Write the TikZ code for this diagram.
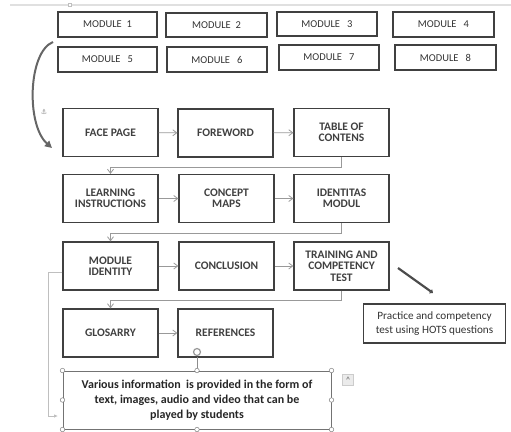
\documentclass[tikz,border=0pt]{standalone}
\usepackage{fontspec}
\setmainfont{Carlito}
\newfontfamily\symfont{DejaVu Sans}
\usetikzlibrary{arrows.meta,positioning}
\begin{document}
\begin{tikzpicture}[x=1pt,y=-1pt,
  modbox/.style={draw=black!75,line width=1.1pt,minimum width=100pt,minimum height=25pt,inner sep=0pt,font=\fontsize{10.5}{12}\selectfont,text=black!80},
  flowbox/.style={draw=black!75,line width=1.2pt,minimum width=95pt,minimum height=48pt,inner sep=1pt,align=center,font=\fontsize{11.5}{11.5}\selectfont\bfseries,text=black!75},
  conn/.style={draw=black!40,line width=0.8pt,-{Straight Barb[length=4pt,width=6pt]}},
  handle/.style={circle,draw=black!50,fill=white,line width=0.5pt,minimum size=4.5pt,inner sep=0pt}]
\useasboundingbox (0,0) rectangle (511,431);
% top faint bar
\draw[black!12,line width=2pt] (10,5) -- (511,5);
\node[draw=black!25,fill=white,minimum size=3pt,inner sep=0pt] (tophandle) at (70,5) {};
% modules
\node[modbox,minimum width=99pt] (m1) at (107.5,24.5) {MODULE\ \ 1};
\node[modbox,minimum width=101pt,minimum height=24pt] (m2) at (216.5,25) {MODULE\ \ 2};
\node[modbox,minimum height=24pt] (m3) at (327,24) {MODULE\ \ \ 3};
\node[modbox,minimum width=101pt] (m4) at (443.5,24.5) {MODULE\ \ \ 4};
\node[modbox,minimum width=99pt] (m5) at (107.5,59.5) {MODULE\ \ \ 5};
\node[modbox] (m6) at (217,59.5) {MODULE\ \ \ 6};
\node[modbox] (m7) at (329,57.5) {MODULE\ \ \ 7};
\node[modbox,minimum width=101pt] (m8) at (445.5,57.5) {MODULE\ \ \ 8};
% flow boxes
\node[flowbox] (face) at (110.5,132.5) {FACE PAGE};
\node[flowbox] (fore) at (225.5,133) {FOREWORD};
\node[flowbox] (toc) at (341.5,132.5) {TABLE OF\\CONTENS};
\node[flowbox] (learn) at (110.5,198.5) {LEARNING\\INSTRUCTIONS};
\node[flowbox] (concept) at (226.5,198.5) {CONCEPT\\MAPS};
\node[flowbox] (ident) at (341.5,198.5) {IDENTITAS\\MODUL};
\node[flowbox] (modid) at (110.5,266) {MODULE\\IDENTITY};
\node[flowbox] (concl) at (226.5,266) {CONCLUSION};
\node[flowbox] (train) at (341.5,266) {TRAINING AND\\COMPETENCY\\TEST};
\node[flowbox] (glos) at (110.5,333) {GLOSARRY};
\node[flowbox] (refs) at (225.5,333) {REFERENCES};
% practice box
\node[draw=black!75,line width=1.1pt,minimum width=142pt,minimum height=39pt,align=center,font=\fontsize{11.2}{14}\selectfont,text=black!80] (prac) at (434.5,323.5) {Practice and competency\\test using HOTS questions};
% various box
\node[draw=black!55,line width=1pt,minimum width=268pt,minimum height=58pt,align=center,font=\fontsize{12}{15}\selectfont\bfseries,text=black!85] (var) at (197,400) {Various information\ \ is provided in the form of\\text, images, audio and video that can be\\played by students};
% horizontal arrows
\draw[conn] (face) -- (fore);
\draw[conn] (fore) -- (toc);
\draw[conn] (learn) -- (concept);
\draw[conn] (concept) -- (ident);
\draw[conn] (modid) -- (concl);
\draw[conn] (concl) -- (train);
\draw[conn] (glos) -- (refs);
% row connectors
\draw[conn] (toc.south) -- ++(0,10) -| (learn.north);
\draw[conn] (ident.south) -- ++(0,10.5) -| (modid.north);
\draw[conn] (train.south) -- ++(0,10) -| (glos.north);
% left line to various box
\coordinate (lt) at (48,272);
\coordinate (lb) at (48,416);
\draw[black!25,line width=0.8pt,-{Latex[length=4pt,width=3.5pt]}] (modid.west |- lt) -- (lt) -- (lb) -- (58,416);
% curved arrow
\coordinate (cs) at (53,42);
\coordinate (ce) at (52,148);
\draw[black!60,line width=2pt,-{Triangle[length=7pt,width=7pt]}] (cs) .. controls (28,52) and (26,125) .. (ce);
\node[text=black!45,font=\symfont\fontsize{7}{7}\selectfont] (anchor) at (44,112) {⚓};
% diagonal thick line
\coordinate (d1) at (398,268);
\coordinate (d2) at (433,293);
\draw[black!70,line width=2.2pt,-{Triangle[length=3pt,width=5pt]}] (d1) -- (d2);
% selection handles
\foreach \p [count=\i] in {north west,north,north east,west,east,south west,south,south east}
  \node[handle] (h\i) at (var.\p) {};
\coordinate (rot) at (197,357);
\draw[black!45,line width=0.8pt] (h2) -- (rot);
\node[circle,draw=black!40,line width=1.2pt,minimum size=7pt,inner sep=0pt,fill=white] (roticon) at (197,352) {};
\node[draw=black!20,fill=black!8,minimum size=11pt,inner sep=0pt,font=\fontsize{8}{8}\selectfont\bfseries,text=black!50] (btn) at (348,380) {\^{}};
\end{tikzpicture}
\end{document}
